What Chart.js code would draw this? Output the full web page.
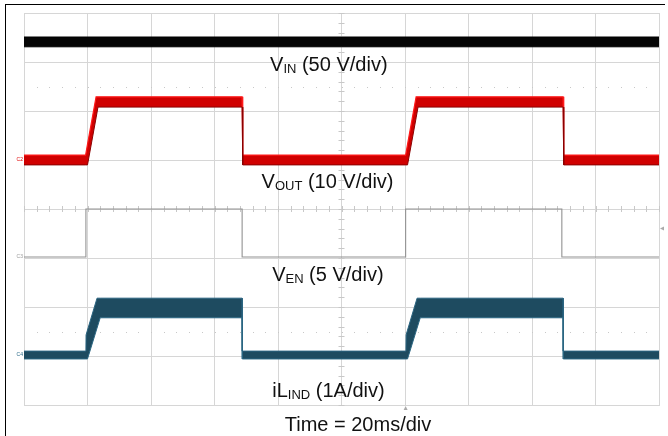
<!DOCTYPE html>
<html>
<head>
<meta charset="utf-8">
<script src="https://cdn.jsdelivr.net/npm/chart.js@4/dist/chart.umd.min.js"></script>
<style>
  html, body { margin: 0; padding: 0; background: #fff; }
  #wrap { position: relative; width: 668px; height: 436px; overflow: hidden; }
  #frame { position: absolute; left: 5px; top: 4px; width: 659px; height: 440px;
           border-left: 1.5px solid #000; border-top: 1.5px solid #000; pointer-events: none; }
  canvas { position: absolute; left: 0; top: 0; }
</style>
</head>
<body>
<div id="wrap">
  <canvas id="c" width="668" height="436"></canvas>
  <div id="frame"></div>
</div>
<script>
// ---- data (time in ms, amplitude in screen divisions from the bottom) ----
const timeVin = [0, 200];
const vinHigh = [7.51, 7.51];
const vinLow  = [7.31, 7.31];

const timeVout = [0, 19.4, 20.0, 22.7, 23.3, 68.7, 68.9, 120.2, 120.8, 123.5, 124.1, 169.8, 170.0, 200];
const voutHigh = [5.10, 5.10, 5.32, 6.29, 6.29, 6.29, 5.10, 5.10, 5.32, 6.29, 6.29, 6.29, 5.10, 5.10];
const voutLow  = [4.90, 4.90, 4.90, 5.86, 6.08, 6.08, 4.90, 4.90, 4.90, 5.86, 6.08, 6.08, 4.90, 4.90];

const timeVen = [0, 19.5, 19.5, 68.7, 68.7, 120.2, 120.2, 169.4, 169.4, 200];
const ven     = [3.02, 3.02, 4.0, 4.0, 3.02, 3.02, 4.0, 4.0, 3.02, 3.02];

const timeIl = [0, 19.5, 19.55, 20.0, 23.0, 24.0, 68.7, 68.75, 120.3, 120.35, 120.8, 123.8, 124.8, 169.8, 169.85, 200];
const ilHigh = [1.10, 1.10, 1.43, 1.53, 2.18, 2.18, 2.18, 1.10, 1.10, 1.43, 1.53, 2.18, 2.18, 2.18, 1.10, 1.10];
const ilLow  = [0.94, 0.94, 0.94, 0.94, 1.57, 1.78, 1.78, 0.94, 0.94, 0.94, 0.94, 1.57, 1.78, 1.78, 0.94, 0.94];

// trace labels: [main, subscript, rest]
const labelVin  = ['V', 'IN', ' (50 V/div)'];
const labelVout = ['V', 'OUT', ' (10 V/div)'];
const labelVen  = ['V', 'EN', ' (5 V/div)'];
const labelIl   = ['iL', 'IND', ' (1A/div)'];
const timeLabel = 'Time = 20ms/div';
const channelTags = ['C2', 'C3', 'C4'];

const pts = (t, v) => t.map((x, i) => ({ x: x, y: v[i] }));

const FONT = '"Liberation Sans", Arial, sans-serif';

const scopeDecor = {
  id: 'scopeDecor',
  beforeDatasetsDraw(chart) {
    const { ctx, scales: { x, y } } = chart;
    ctx.save();
    ctx.strokeStyle = '#c8c8c8';
    ctx.lineWidth = 1;
    const cx = x.getPixelForValue(100), cy = y.getPixelForValue(4);
    ctx.beginPath();
    for (let d = 0; d <= 8.001; d += 0.2) {
      const py = Math.round(y.getPixelForValue(d)) + 0.5;
      ctx.moveTo(cx - 3, py); ctx.lineTo(cx + 3, py);
    }
    for (let t = 0; t <= 200.001; t += 4) {
      const px = Math.round(x.getPixelForValue(t)) + 0.5;
      ctx.moveTo(px, cy - 3); ctx.lineTo(px, cy + 3);
    }
    ctx.stroke();
    // dotted marker rows
    ctx.fillStyle = '#c8c8c8';
    [6.5, 1.5].forEach(d => {
      const py = Math.round(y.getPixelForValue(d));
      for (let t = 4; t < 200; t += 4) {
        ctx.fillRect(Math.round(x.getPixelForValue(t)), py, 1, 1);
      }
    });
    ctx.restore();
  },
  afterDatasetsDraw(chart) {
    const { ctx, scales: { x, y }, chartArea } = chart;
    ctx.save();
    ctx.fillStyle = '#111';
    ctx.textBaseline = 'alphabetic';
    const drawLabel = (parts, t, d) => {
      const big = '20px ' + FONT, small = '13px ' + FONT;
      ctx.font = big; const w1 = ctx.measureText(parts[0]).width;
      ctx.font = small; const w2 = ctx.measureText(parts[1]).width;
      ctx.font = big; const w3 = ctx.measureText(parts[2]).width;
      let px = x.getPixelForValue(t) - (w1 + w2 + w3) / 2;
      const py = y.getPixelForValue(d);
      ctx.font = big; ctx.fillText(parts[0], px, py); px += w1;
      ctx.font = small; ctx.fillText(parts[1], px, py + 2); px += w2;
      ctx.font = big; ctx.fillText(parts[2], px, py);
    };
    drawLabel(labelVin, 96, 6.82);
    drawLabel(labelVout, 95.6, 4.43);
    drawLabel(labelVen, 95.7, 2.53);
    drawLabel(labelIl, 95.9, 0.17);
    ctx.font = '20px ' + FONT;
    ctx.textAlign = 'center';
    ctx.fillText(timeLabel, x.getPixelForValue(105.2), chartArea.bottom + 26);
    // channel tags
    ctx.font = '5px ' + FONT;
    ctx.textAlign = 'right';
    ctx.textBaseline = 'middle';
    const tagCol = ['#e00000', '#999', '#2a6a88'];
    const tagDiv = [5.0, 3.02, 1.02];
    channelTags.forEach((s, i) => {
      ctx.fillStyle = tagCol[i];
      ctx.fillText(s, chartArea.left - 1, y.getPixelForValue(tagDiv[i]));
    });
    // trigger markers
    ctx.fillStyle = '#aaa';
    const tx = x.getPixelForValue(120.2), by = chartArea.bottom;
    ctx.beginPath(); ctx.moveTo(tx, by + 1); ctx.lineTo(tx - 2, by + 5); ctx.lineTo(tx + 2, by + 5); ctx.closePath(); ctx.fill();
    const ry = y.getPixelForValue(3.6), rx = chartArea.right;
    ctx.beginPath(); ctx.moveTo(rx + 1, ry); ctx.lineTo(rx + 5, ry - 2); ctx.lineTo(rx + 5, ry + 2); ctx.closePath(); ctx.fill();
    ctx.restore();
  }
};

new Chart(document.getElementById('c'), {
  type: 'line',
  data: {
    datasets: [
      { data: pts(timeVin, vinLow), borderColor: '#000', borderWidth: 1, fill: false },
      { data: pts(timeVin, vinHigh), borderColor: '#000', borderWidth: 1, backgroundColor: '#050505', fill: '-1' },
      { data: pts(timeVout, voutLow), borderColor: '#8a0000', borderWidth: 1, fill: false },
      { data: pts(timeVout, voutHigh), borderColor: '#ff1a1a', borderWidth: 1.2, backgroundColor: '#d00000', fill: '-1' },
      { data: pts(timeVen, ven), borderColor: '#929292', borderWidth: 1.1, fill: false },
      { data: pts(timeIl, ilLow), borderColor: '#2b6783', borderWidth: 1, fill: false },
      { data: pts(timeIl, ilHigh), borderColor: '#2a6480', borderWidth: 1, backgroundColor: '#1e4b60', fill: '-1' }
    ]
  },
  options: {
    responsive: false,
    animation: false,
    devicePixelRatio: 1,
    layout: { padding: { left: 24, top: 13, right: 9, bottom: 31 } },
    elements: { point: { radius: 0 }, line: { tension: 0 } },
    plugins: { legend: { display: false }, tooltip: { enabled: false } },
    scales: {
      x: {
        type: 'linear', min: 0, max: 200,
        ticks: { display: false, stepSize: 20 },
        grid: { color: '#d6d6d6', lineWidth: 1, drawTicks: false },
        border: { display: true, color: '#d6d6d6' }
      },
      y: {
        type: 'linear', min: 0, max: 8,
        ticks: { display: false, stepSize: 1 },
        grid: { color: '#d6d6d6', lineWidth: 1, drawTicks: false },
        border: { display: true, color: '#d6d6d6' }
      }
    }
  },
  plugins: [scopeDecor]
});
</script>
</body>
</html>
